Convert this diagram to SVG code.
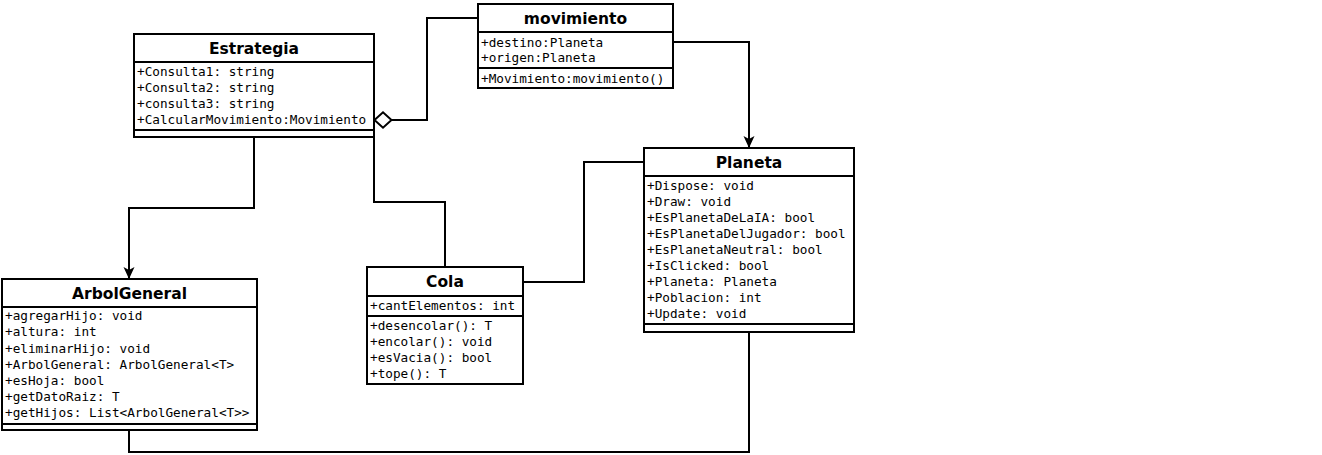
<svg xmlns="http://www.w3.org/2000/svg" width="1322" height="455" viewBox="0 0 1322 455">
  <style>
    .box { fill: #ffffff; stroke: #000000; stroke-width: 2; }
    .sep { stroke: #000000; stroke-width: 2; fill: none; }
    .title { font-family: "DejaVu Sans", "Liberation Sans", sans-serif; font-weight: bold; font-size: 15.5px; fill: #000000; text-anchor: middle; }
    .mem { font-family: "DejaVu Sans Mono", "Liberation Mono", monospace; font-size: 12.7px; fill: #000000; }
    .edge { stroke: #000000; stroke-width: 2; fill: none; }
  </style>
  <defs>
    <marker id="arrow" viewBox="0 0 12 12" refX="12" refY="6" markerWidth="12" markerHeight="12" markerUnits="userSpaceOnUse" orient="auto">
      <path d="M0,0.5 L12,6 L0,11.5 L3,6 Z" fill="#000000"/>
    </marker>
  </defs>
  <rect width="1322" height="455" fill="#ffffff"/>

  <g id="connectors">
    <path class="edge" d="M254,137 V208 H129 V279" marker-end="url(#arrow)"/>
    <path class="edge" d="M374,137 V202 H445 V267"/>
    <path class="edge" d="M392,120 H427 V18 H478"/>
    <path d="M374.5,120 L383,112.3 L391.5,120 L383,127.7 Z" fill="#ffffff" stroke="#000000" stroke-width="2"/>
    <path class="edge" d="M673,42 H749 V148" marker-end="url(#arrow)"/>
    <path class="edge" d="M523,282 H584 V162 H644"/>
    <path class="edge" d="M749,332 V452 H129 V430"/>
  </g>

  <g id="Estrategia">
    <rect class="box" x="134" y="34" width="240" height="103"/>
    <line class="sep" x1="134" y1="62" x2="374" y2="62"/>
    <line class="sep" x1="134" y1="130" x2="374" y2="130"/>
    <text class="title" x="254" y="53.5">Estrategia</text>
    <text class="mem" x="137" y="76.2">+Consulta1: string</text>
    <text class="mem" x="137" y="92">+Consulta2: string</text>
    <text class="mem" x="137" y="108">+consulta3: string</text>
    <text class="mem" x="137" y="124">+CalcularMovimiento:Movimiento</text>
  </g>

  <g id="movimiento">
    <rect class="box" x="478" y="4" width="195" height="84"/>
    <line class="sep" x1="478" y1="32" x2="673" y2="32"/>
    <line class="sep" x1="478" y1="68" x2="673" y2="68"/>
    <text class="title" x="575.5" y="23.5">movimiento</text>
    <text class="mem" x="481" y="46.8">+destino:Planeta</text>
    <text class="mem" x="481" y="62.2">+origen:Planeta</text>
    <text class="mem" x="481" y="82.8">+Movimiento:movimiento()</text>
  </g>

  <g id="Planeta">
    <rect class="box" x="644" y="148" width="210" height="184"/>
    <line class="sep" x1="644" y1="176" x2="854" y2="176"/>
    <line class="sep" x1="644" y1="324" x2="854" y2="324"/>
    <text class="title" x="749" y="167.5">Planeta</text>
    <text class="mem" x="647" y="189.5">+Dispose: void</text>
    <text class="mem" x="647" y="205.5">+Draw: void</text>
    <text class="mem" x="647" y="221.5">+EsPlanetaDeLaIA: bool</text>
    <text class="mem" x="647" y="237.5">+EsPlanetaDelJugador: bool</text>
    <text class="mem" x="647" y="253.5">+EsPlanetaNeutral: bool</text>
    <text class="mem" x="647" y="269.5">+IsClicked: bool</text>
    <text class="mem" x="647" y="285.5">+Planeta: Planeta</text>
    <text class="mem" x="647" y="301.5">+Poblacion: int</text>
    <text class="mem" x="647" y="317.5">+Update: void</text>
  </g>

  <g id="Cola">
    <rect class="box" x="367" y="267" width="156" height="117"/>
    <line class="sep" x1="367" y1="296" x2="523" y2="296"/>
    <line class="sep" x1="367" y1="316" x2="523" y2="316"/>
    <text class="title" x="445" y="286.5">Cola</text>
    <text class="mem" x="370" y="310.2">+cantElementos: int</text>
    <text class="mem" x="370" y="329.5">+desencolar(): T</text>
    <text class="mem" x="370" y="345.5">+encolar(): void</text>
    <text class="mem" x="370" y="361.8">+esVacia(): bool</text>
    <text class="mem" x="370" y="377.8">+tope(): T</text>
  </g>

  <g id="ArbolGeneral">
    <rect class="box" x="2" y="279" width="255" height="151"/>
    <line class="sep" x1="2" y1="307" x2="257" y2="307"/>
    <line class="sep" x1="2" y1="424" x2="257" y2="424"/>
    <text class="title" x="129.5" y="298.5">ArbolGeneral</text>
    <text class="mem" x="5" y="320.2">+agregarHijo: void</text>
    <text class="mem" x="5" y="336.4">+altura: int</text>
    <text class="mem" x="5" y="352.5">+eliminarHijo: void</text>
    <text class="mem" x="5" y="368.7">+ArbolGeneral: ArbolGeneral&lt;T&gt;</text>
    <text class="mem" x="5" y="384.9">+esHoja: bool</text>
    <text class="mem" x="5" y="401.1">+getDatoRaiz: T</text>
    <text class="mem" x="5" y="417.2">+getHijos: List&lt;ArbolGeneral&lt;T&gt;&gt;</text>
  </g>
</svg>
